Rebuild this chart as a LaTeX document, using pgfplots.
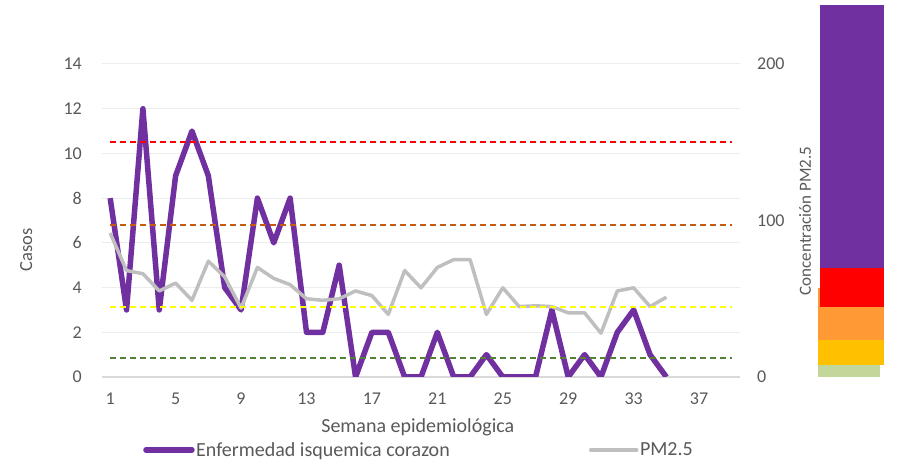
\documentclass[border=0pt]{standalone}
\usepackage{fontspec}
\setmainfont{Carlito}
\usepackage{pgfplots}
\usepackage{pgfplotstable}
\pgfplotsset{compat=1.18}
\definecolor{txt}{HTML}{595959}
\definecolor{gridc}{HTML}{EDEDED}
\definecolor{basec}{HTML}{D9D9D9}
\definecolor{morado}{HTML}{7030A0}
\definecolor{gris}{HTML}{BFBFBF}
\definecolor{rojo}{HTML}{FF0000}
\definecolor{naranjaosc}{HTML}{C55A11}
\definecolor{amarillo}{HTML}{FFFF00}
\definecolor{verdeosc}{HTML}{548235}
\definecolor{naranja}{HTML}{FF9933}
\definecolor{ambar}{HTML}{FFC000}
\definecolor{verdeclaro}{HTML}{C4D79B}

\pgfplotstableread{
wk cases pm
1 8 92
2 3 68
3 12 66
4 3 55
5 9 60
6 11 49
7 9 74
8 4 64
9 3 44
10 8 70
11 6 63
12 8 59
13 2 50
14 2 49
15 5 50
16 0 55
17 2 52
18 2 40
19 0 68
20 0 57
21 2 70
22 0 75
23 0 75
24 1 40
25 0 57
26 0 45
27 0 45.5
28 3 45
29 0 41
30 1 41
31 0 28
32 2 55
33 3 57
34 1 45
35 0 51
}\datos

\pgfplotstableread{
x y
1 0
39 0
}\linea

\begin{document}
\begin{tikzpicture}
\useasboundingbox (0,0) rectangle (904bp,469bp);
\pgfplotsset{
  basestyle/.style={at={(102bp,92bp)}, anchor=south west, scale only axis,
    width=638bp, height=313bp, xmin=0.5, xmax=39.5,
    major tick length=0pt,
    tick label style={font=\fontsize{18bp}{20bp}\selectfont, text=txt, inner sep=0pt},
    /pgf/number format/assume math mode=true,
    label style={text=txt},
    legend image code/.code={\draw[##1, line cap=round] (0bp,0bp) -- (46bp,0bp);},
  },
}
\begin{axis}[basestyle, ymin=0, ymax=14,
  xtick={1,5,...,37}, ytick={0,2,...,14},
  axis x line*=bottom, axis y line*=left,
  x axis line style={draw=basec, line width=1.2bp, -},
  y axis line style={draw=none},
  ymajorgrids, grid style={draw=gridc, line width=1bp},
  xticklabel style={anchor=center, yshift=-22bp},
  yticklabel style={anchor=east, xshift=-20bp},
  xlabel={Semana epidemiológica},
  xlabel style={at={(axis description cs:0.495,-0.16)}, anchor=center, font=\fontsize{20bp}{22bp}\selectfont},
  ylabel={Casos},
  ylabel style={at={(axis description cs:-0.119,0.406)}, anchor=center, font=\fontsize{18.5bp}{20bp}\selectfont},
  legend style={at={(0.0643,-0.233)}, anchor=west, draw=none, fill=none, inner sep=0pt,
    font=\fontsize{20bp}{22bp}\selectfont, text=txt, nodes={inner sep=1.5bp}},
]
\addplot[color=morado, line width=5.5bp, line join=round] table[x=wk, y=cases] {\datos};
\addlegendentry{Enfermedad isquemica corazon}
\end{axis}

\begin{axis}[basestyle, ymin=0, ymax=200,
  axis x line=none, axis y line*=right,
  y axis line style={draw=none},
  ytick={0,100,200},
  yticklabel style={anchor=west, xshift=17bp},
  ylabel={Concentración PM2.5},
  ylabel style={at={(axis description cs:1.102,0.498)}, anchor=center, font=\fontsize{17bp}{19bp}\selectfont},
  legend style={at={(0.763,-0.233)}, anchor=west, draw=none, fill=none, inner sep=0pt,
    font=\fontsize{20bp}{22bp}\selectfont, text=txt, nodes={inner sep=1.5bp}},
]
\addplot[color=gris, line width=3.5bp, line join=round] table[x=wk, y=pm] {\datos};
\addlegendentry{PM2.5}
\addplot[forget plot, color=rojo, line width=1.8bp, dash pattern=on 6bp off 4bp] table[x=x, y expr=150] {\linea};
\addplot[forget plot, color=naranjaosc, line width=1.8bp, dash pattern=on 6bp off 4bp] table[x=x, y expr=97] {\linea};
\addplot[forget plot, color=amarillo, line width=1.8bp, dash pattern=on 6bp off 4bp] table[x=x, y expr=44.5] {\linea};
\addplot[forget plot, color=verdeosc, line width=1.8bp, dash pattern=on 6bp off 4bp] table[x=x, y expr=12] {\linea};
\end{axis}

\begin{axis}[at={(0bp,92bp)}, anchor=south west, scale only axis,
  width=904bp, height=313bp, xmin=0, xmax=904, ymin=0, ymax=200,
  hide axis, clip=false]
\addplot[draw=none, fill=verdeclaro] coordinates {(818,0) (880,0) (880,7.7) (818,7.7)} -- cycle;
\addplot[draw=none, fill=ambar] coordinates {(818,7.7) (884,7.7) (884,23.6) (818,23.6)} -- cycle;
\addplot[draw=none, fill=naranja] coordinates {(818,23.6) (884,23.6) (884,56.9) (818,56.9)} -- cycle;
\addplot[draw=none, fill=rojo] coordinates {(820,44.7) (884,44.7) (884,69.6) (820,69.6)} -- cycle;
\addplot[draw=none, fill=morado] coordinates {(820,69.6) (884,69.6) (884,237.7) (820,237.7)} -- cycle;
\end{axis}
\end{tikzpicture}
\end{document}
